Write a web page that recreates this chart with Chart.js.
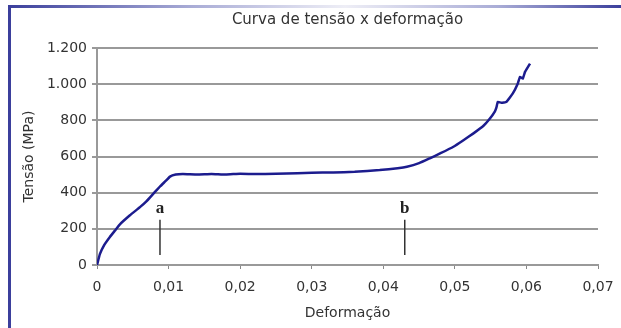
<!DOCTYPE html>
<html>
<head>
<meta charset="utf-8">
<script src="https://cdn.jsdelivr.net/npm/chart.js@4"></script>
<style>
  html, body { margin: 0; padding: 0; background: #fff; }
  #wrap { position: relative; width: 621px; height: 328px; overflow: hidden; }
  #topBar { position: absolute; left: 8px; top: 5px; width: 613px; height: 3px;
    background: linear-gradient(to right, #3b3f9c 0%, #a9acd6 30%, #eeeef6 55%, #a9acd6 80%, #3b3f9c 100%); }
  #leftBar { position: absolute; left: 8px; top: 5px; width: 3px; height: 323px; background: #3b3f9c; }
  canvas { position: absolute; left: 0; top: 0; }
</style>
</head>
<body>
<div id="wrap">
  <div id="topBar"></div>
  <div id="leftBar"></div>
  <canvas id="myChart" width="621" height="328"></canvas>
</div>
<script>
// strain (deformação) and stress (tensão, MPa)
const strain = [0, 0.0004, 0.001, 0.0018, 0.0025, 0.0032, 0.0046, 0.006, 0.0069, 0.008,
    0.0088, 0.0096, 0.0102, 0.011, 0.012, 0.014, 0.016, 0.018, 0.02, 0.022,
    0.025, 0.028, 0.03, 0.033, 0.036, 0.0395, 0.042, 0.0433, 0.045, 0.0465,
    0.048, 0.0498, 0.0512, 0.0526, 0.054, 0.0549, 0.0556, 0.0558, 0.056, 0.0565,
    0.0572, 0.0581, 0.0588, 0.0591, 0.0595, 0.0598, 0.0605];
const stress = [0, 60, 110, 155, 190, 225, 275, 320, 352, 400,
    434, 465, 489, 500, 503, 500, 503, 500, 505, 503,
    505, 508, 510, 512, 515, 525, 535, 543, 563, 590,
    618, 654, 690, 728, 770, 810, 850, 870, 902, 897,
    902, 949, 1004, 1040, 1031, 1068, 1114];

// markers a and b
const markLabels = ['a', 'b'];
const markX = [0.0088, 0.043];
const markLow = 55;
const markHigh = 250;
const markText = 312;

const xTickLabels = ['0', '0,01', '0,02', '0,03', '0,04', '0,05', '0,06', '0,07'];
const yTickLabels = ['0', '200', '400', '600', '800', '1.000', '1.200'];
const chartTitle = 'Curva de tensão x deformação';

const curve = strain.map((x, i) => ({ x: x, y: stress[i] }));

const markSets = markX.map(x => ({
    data: [{ x: x, y: markLow }, { x: x, y: markHigh }],
    borderColor: '#333',
    borderWidth: 1.5,
    pointRadius: 0,
    showLine: true
}));

// title centred on the plot area, plus the a / b letters
const extraText = {
    id: 'extraText',
    afterDatasetsDraw(chart) {
        const c = chart.ctx;
        const area = chart.chartArea;
        c.save();
        c.fillStyle = '#333';
        c.font = '15px "DejaVu Sans"';
        c.textAlign = 'center';
        c.textBaseline = 'middle';
        c.fillText(chartTitle, (area.left + area.right) / 2, 20);

        c.fillStyle = '#222';
        c.font = 'bold 17px "Liberation Serif"';
        for (let i = 0; i < markX.length; i++) {
            c.fillText(markLabels[i], chart.scales.x.getPixelForValue(markX[i]), chart.scales.y.getPixelForValue(markText));
        }
        c.restore();
    }
};

Chart.defaults.font.family = '"DejaVu Sans"';
Chart.defaults.color = '#333';

var ctx = document.getElementById('myChart').getContext('2d');

var myChart = new Chart(ctx, { // eslint-disable-line
    type: 'scatter',
    data: {
        datasets: [{
            data: curve,
            borderColor: '#1c1c8e',
            borderWidth: 2.5,
            pointRadius: 0,
            showLine: true,
            tension: 0.1
        }].concat(markSets)
    },
    options: {
        responsive: false,
        animation: false,
        layout: { padding: { left: 21, right: 23, top: 48, bottom: 6 } },
        plugins: {
            legend: { display: false },
            tooltip: { enabled: false },
            title: { display: false }
        },
        scales: {
            x: {
                type: 'linear',
                min: 0,
                max: 0.07,
                afterFit: (s) => {
                    s.height = 57;
                    s.paddingLeft = 0;
                    s.paddingRight = 0;
                },
                ticks: {
                    stepSize: 0.01,
                    font: { size: 14 },
                    maxRotation: 0,
                    padding: 10,
                    callback: (v, i) => xTickLabels[i]
                },
                grid: { drawOnChartArea: false, tickLength: 4, color: '#888', lineWidth: 1 },
                border: { color: '#999', width: 2 },
                title: { display: true, text: 'Deformação', font: { size: 14 }, padding: { top: 0, bottom: 0 } }
            },
            y: {
                min: 0,
                max: 1200,
                afterFit: (s) => { s.width = 76; },
                ticks: {
                    stepSize: 200,
                    font: { size: 14 },
                    padding: 5,
                    callback: (v, i) => yTickLabels[i]
                },
                grid: { tickLength: 5, color: '#999', lineWidth: 2 },
                border: { color: '#999', width: 2 },
                title: { display: true, text: 'Tensão (MPa)', font: { size: 14 }, padding: { top: 0, bottom: 5 } }
            }
        }
    },
    plugins: [extraText]
});
</script>
</body>
</html>
